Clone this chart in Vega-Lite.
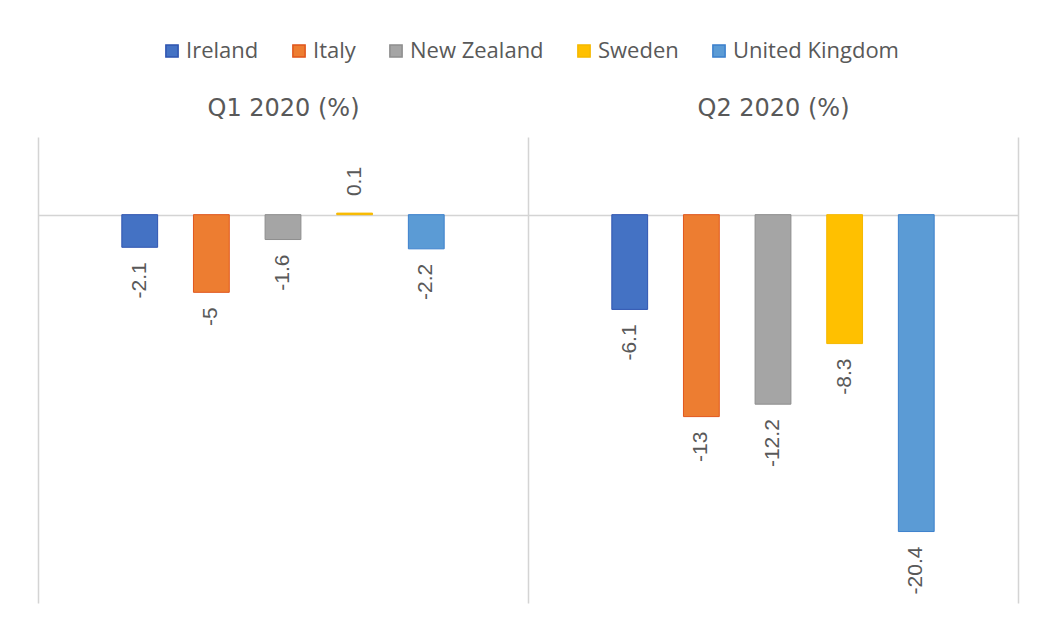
{
  "$schema": "https://vega.github.io/schema/vega-lite/v6.json",
  "width": 980,
  "height": 466,
  "autosize": {"type": "none"},
  "padding": {"left": 38, "top": 137, "right": 19, "bottom": 26},
  "background": "white",
  "config": {
    "view": {"stroke": null}
  },
  "data": {
    "values": [
      {"quarter": "Q1 2020 (%)", "country": "Ireland", "value": -2.1},
      {"quarter": "Q1 2020 (%)", "country": "Italy", "value": -5},
      {"quarter": "Q1 2020 (%)", "country": "New Zealand", "value": -1.6},
      {"quarter": "Q1 2020 (%)", "country": "Sweden", "value": 0.1},
      {"quarter": "Q1 2020 (%)", "country": "United Kingdom", "value": -2.2},
      {"quarter": "Q2 2020 (%)", "country": "Ireland", "value": -6.1},
      {"quarter": "Q2 2020 (%)", "country": "Italy", "value": -13},
      {"quarter": "Q2 2020 (%)", "country": "New Zealand", "value": -12.2},
      {"quarter": "Q2 2020 (%)", "country": "Sweden", "value": -8.3},
      {"quarter": "Q2 2020 (%)", "country": "United Kingdom", "value": -20.4}
    ]
  },
  "encoding": {
    "x": {
      "field": "quarter",
      "type": "nominal",
      "title": null,
      "scale": {"paddingInner": 0, "paddingOuter": 0},
      "axis": {
        "orient": "top",
        "domain": false,
        "ticks": false,
        "grid": true,
        "tickBand": "extent",
        "gridColor": "#d4d4d4",
        "gridWidth": 1.5,
        "labelAngle": 0,
        "labelFont": "DejaVu Sans",
        "labelFontSize": 24,
        "labelColor": "#595959",
        "labelPadding": 17
      }
    },
    "xOffset": {
      "field": "country",
      "type": "nominal",
      "scale": {
        "domain": ["gap-left", "Ireland", "Italy", "New Zealand", "Sweden", "United Kingdom", "gap-right"],
        "paddingInner": 0.5,
        "paddingOuter": 0.17
      }
    },
    "y": {
      "field": "value",
      "type": "quantitative",
      "scale": {"domain": [-25, 5], "nice": false},
      "axis": {
        "values": [0],
        "grid": true,
        "gridColor": "#d4d4d4",
        "gridWidth": 1.5,
        "labels": false,
        "ticks": false,
        "domain": false,
        "title": null
      }
    }
  },
  "layer": [
    {
      "mark": {"type": "bar", "strokeWidth": 1},
      "encoding": {
        "color": {
          "field": "country",
          "type": "nominal",
          "title": null,
          "scale": {
            "domain": ["Ireland", "Italy", "New Zealand", "Sweden", "United Kingdom"],
            "range": ["#4472C4", "#ED7D31", "#A5A5A5", "#FFC000", "#5B9BD5"]
          },
          "legend": {
            "orient": "none",
            "direction": "horizontal",
            "legendX": 123,
            "legendY": -97,
            "symbolType": "square",
            "symbolSize": 150,
            "symbolOpacity": 1,
            "labelFont": "Open Sans",
            "labelFontSize": 22,
            "labelColor": "#595959",
            "labelLimit": 400,
            "labelOffset": 3,
            "columnPadding": 29
          }
        },
        "stroke": {
          "field": "country",
          "type": "nominal",
          "scale": {
            "domain": ["Ireland", "Italy", "New Zealand", "Sweden", "United Kingdom"],
            "range": ["#2F55B0", "#E0561C", "#8E8E8E", "#F5B800", "#3C80CC"]
          },
          "legend": null
        }
      }
    },
    {
      "transform": [{"filter": "datum.value < 0"}],
      "mark": {"type": "text", "angle": 270, "align": "right", "baseline": "middle", "dx": -15, "font": "Liberation Sans", "fontSize": 21, "color": "#595959"},
      "encoding": {
        "text": {"field": "value", "type": "nominal"}
      }
    },
    {
      "transform": [{"filter": "datum.value >= 0"}],
      "mark": {"type": "text", "angle": 270, "align": "left", "baseline": "middle", "dx": 17, "font": "Liberation Sans", "fontSize": 21, "color": "#595959"},
      "encoding": {
        "text": {"field": "value", "type": "nominal"}
      }
    }
  ]
}
